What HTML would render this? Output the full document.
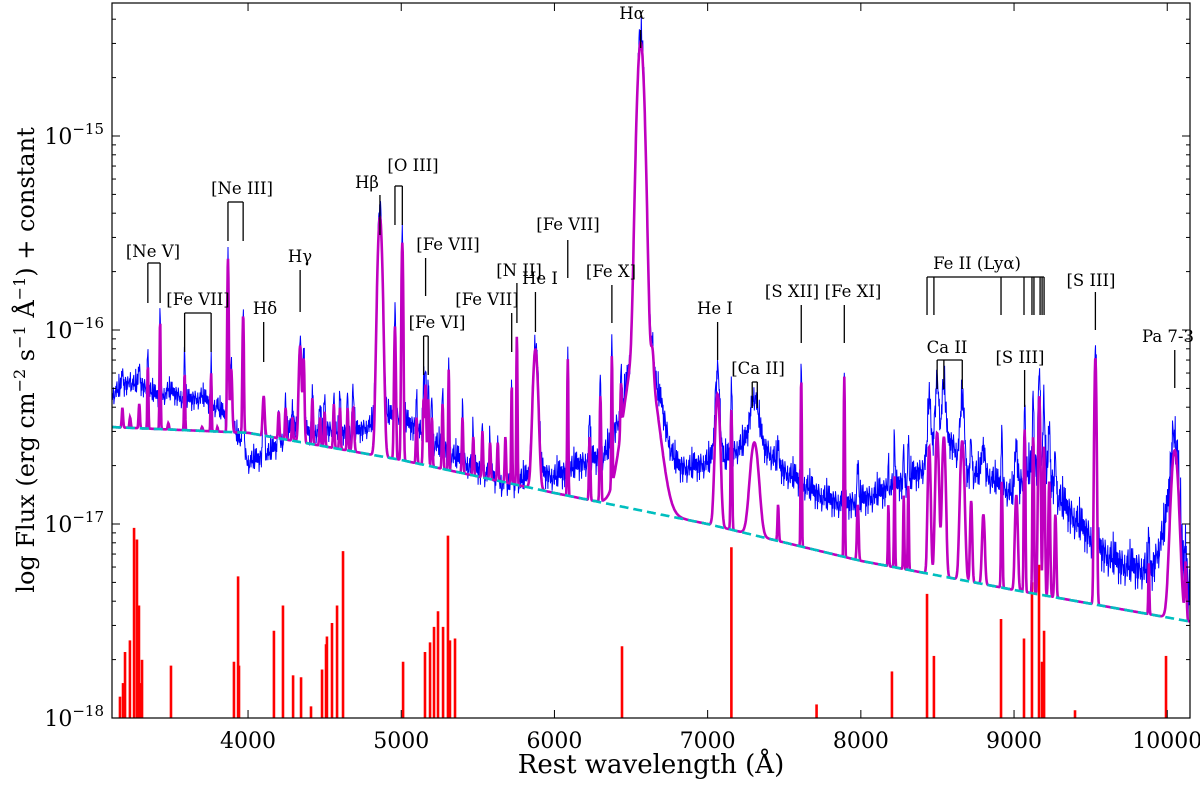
<!DOCTYPE html>
<html><head><meta charset="utf-8"><style>
body{margin:0;background:#fff;}
svg{display:block;font-family:"DejaVu Serif","Liberation Serif",serif;}
</style></head><body>
<svg id="chart" width="1200" height="786" viewBox="0 0 1200 786" xmlns="http://www.w3.org/2000/svg">
<defs><clipPath id="clip"><rect x="112" y="3" width="1078" height="715"/></clipPath></defs>
<g id="plot" clip-path="url(#clip)"></g>
<g id="annot"></g>
<g id="axes"></g>
</svg>
<script>
// ---- data ----
const contWave = [3100,4000,5000,6000,7000,8000,9000,10200];
const contLog  = [-16.50,-16.53,-16.67,-16.84,-17.00,-17.19,-17.34,-17.51];
const lineWave = [3180,3230,3290,3346,3426,3480,3586,3640,3700,3759,3800,3869,3890,3968,4070,4102,4200,4245,4290,4340,4363,4420,4470,4500,4560,4600,4650,4686,4861,4959,5007,5100,5146,5159,5176,5200,5270,5310,5400,5470,5530,5580,5630,5680,5721,5755,5876,6087,6230,6300,6375,6435,6563,6563,6640,7065,7155,7305,7460,7611,7892,7980,8180,8220,8280,8310,8446,8498,8542,8662,8720,8800,8920,9015,9069,9125,9165,9195,9230,9270,9531,9880,10049,10120];
const linePeak = [-16.40,-16.45,-16.38,-16.18,-15.95,-16.48,-16.22,-16.52,-16.50,-16.22,-16.50,-15.63,-16.20,-15.92,-16.55,-16.34,-16.42,-16.40,-16.45,-16.08,-16.15,-16.35,-16.45,-16.42,-16.38,-16.40,-16.40,-16.40,-15.42,-15.98,-15.55,-16.45,-16.35,-16.28,-16.35,-16.45,-16.38,-16.20,-16.45,-16.55,-16.52,-16.58,-16.58,-16.55,-16.28,-16.03,-16.10,-16.15,-16.55,-16.34,-16.15,-16.45,-14.53,-16.05,-16.48,-16.33,-16.41,-16.58,-16.90,-16.25,-16.24,-16.90,-16.90,-16.75,-16.85,-16.80,-16.60,-16.53,-16.55,-16.57,-16.88,-16.95,-16.78,-16.85,-16.51,-16.55,-16.34,-16.60,-16.78,-16.95,-16.14,-17.20,-16.62,-17.20];
const lineSigma = [4,4,4,3,3,4,3,4,4,3,3,4,6,4,4,6,4,4,4,8,5,4,4,4,4,4,4,6,14,5,5,4,4,4,4,4,4,3,4,4,4,4,4,4,3,3,15,3,4,4,3,4,20,75,8,14,4,25,4,3,3,5,3,3,3,3,8,10,10,12,6,8,4,8,4,4,6,5,5,5,6,3,22,5];
const baseStart = 3100, baseStep = 100;
const blueBase = [-16.34,-16.28,-16.28,-16.34,-16.32,-16.36,-16.35,-16.40,-16.49,-16.68,-16.66,-16.59,-16.49,-16.53,-16.51,-16.53,-16.53,-16.49,-16.44,-16.46,-16.51,-16.57,-16.63,-16.68,-16.72,-16.76,-16.81,-16.77,-16.73,-16.76,-16.72,-16.68,-16.66,-16.62,-16.98,-16.98,-16.59,-16.71,-16.71,-16.68,-16.68,-16.61,-16.57,-16.63,-16.73,-16.78,-16.84,-16.88,-16.90,-16.88,-16.85,-16.81,-16.78,-16.72,-16.52,-16.59,-16.76,-16.73,-16.80,-16.85,-16.72,-16.70,-16.88,-16.98,-17.07,-17.16,-17.21,-17.23,-17.24,-16.98,-17.31,-17.39];
const noisePattern = [0.3,-0.8,0.5,-0.2,0.9,-0.6,0.1,-1.0,0.7,-0.3,0.4,-0.9,0.2,0.8,-0.5,-0.1,0.6,-0.7,1.0,-0.4,0.0,-0.8,0.5,0.3,-0.6,0.9,-0.2,-1.0,0.4,0.7,-0.3,0.1,-0.9,0.6,-0.5,0.8,-0.1,0.2,-0.7,0.5,-0.35,0.95,-0.15,0.45];
const noiseAmp = [0.055,0.06,0.07,0.075,0.075,0.08,0.1,0.15];
const barWave = [3164,3184,3197,3229,3256,3275,3288,3295,3308,3497,3908,3935,3941,4169,4228,4294,4346,4411,4483,4509,4515,4548,4581,4620,5012,5155,5188,5214,5240,5273,5305,5318,5351,6441,7155,7711,8203,8432,8477,8915,9065,9117,9163,9183,9196,9398,9992];
const barLog  = [-17.89,-17.82,-17.66,-17.60,-17.02,-17.08,-17.42,-17.82,-17.70,-17.73,-17.71,-17.27,-17.73,-17.55,-17.42,-17.78,-17.79,-17.94,-17.75,-17.62,-17.58,-17.51,-17.42,-17.14,-17.71,-17.66,-17.61,-17.53,-17.45,-17.53,-17.06,-17.60,-17.59,-17.63,-17.12,-17.93,-17.76,-17.36,-17.68,-17.49,-17.59,-17.30,-17.21,-17.71,-17.55,-17.96,-17.68];
const xTicks = [4000,5000,6000,7000,8000,9000,10000];
const yTicks = [-18,-17,-16,-15];

// ---- scales ----
const X0=112,X1=1190,Y0=3,Y1=718;
const W0=3112, PXA=0.1532;
function X(w){return X0+(w-W0)*PXA;}
function Y(l){return Y1-(l+18)*194;}
const WMIN=W0, WMAX=W0+(X1-X0)/PXA;
const NS='http://www.w3.org/2000/svg';
function el(tag,attrs,parent){const e=document.createElementNS(NS,tag);for(const k in attrs)e.setAttribute(k,attrs[k]);parent.appendChild(e);return e;}
function interp(xs,ys,x){if(x<=xs[0])return ys[0];for(let i=1;i<xs.length;i++){if(x<=xs[i]){const t=(x-xs[i-1])/(xs[i]-xs[i-1]);return ys[i-1]+t*(ys[i]-ys[i-1]);}}return ys[ys.length-1];}
function cont(w){return Math.pow(10,interp(contWave,contLog,w));}
function lines(w){let s=0;for(let i=0;i<lineWave.length;i++){const d=(w-lineWave[i])/lineSigma[i];if(Math.abs(d)>6)continue;const amp=Math.max(Math.pow(10,linePeak[i])-cont(lineWave[i]),0);s+=amp*Math.exp(-0.5*d*d);}return s;}
function baseAt(w){const xs=blueBase.map((_,i)=>baseStart+i*baseStep);return interp(xs,blueBase,w);}

const plot=document.getElementById('plot');
for(let i=0;i<barWave.length;i++){
  const b=el('line',{x1:X(barWave[i]),x2:X(barWave[i]),y1:Y1,y2:Y(barLog[i]),stroke:'#ff0000','stroke-width':2.6},plot);
  
  
}
let bp=[],mp=[],cp=[];let k=0;
const NP=noisePattern.length;
for(let w=WMIN;w<=WMAX;w+=2.5){
  const L=lines(w);
  const na=noiseAmp[Math.min(7,Math.max(0,Math.floor(w/1000)-3))];
  const nz=noisePattern[k%NP]*na*0.7+noisePattern[(k*7+3)%NP]*na*0.5+noisePattern[(k*13+11)%NP]*na*0.3;k++;
  const bl=Math.log10(Math.pow(10,baseAt(w))+L*1.1)+nz;
  bp.push(X(w).toFixed(1)+','+Y(bl).toFixed(1));
  const c=cont(w);
  mp.push(X(w).toFixed(1)+','+Y(Math.log10(c+L)).toFixed(1));
  cp.push(X(w).toFixed(1)+','+Y(Math.log10(c)).toFixed(1));
}
const blue=el('polyline',{points:bp.join(' '),fill:'none',stroke:'#0000ff','stroke-width':1},plot);


const mag=el('polyline',{points:mp.join(' '),fill:'none',stroke:'#bf00bf','stroke-width':2.6},plot);


const cy=el('polyline',{points:cp.join(' '),fill:'none',stroke:'#00bfbf','stroke-width':2.6,'stroke-dasharray':'9,5'},plot);



// ---- axes ----
const axes=document.getElementById('axes');
const fr=el('rect',{x:X0,y:Y0,width:X1-X0,height:Y1-Y0,fill:'none',stroke:'#000','stroke-width':1.2},axes);


xTicks.forEach(t=>{
  const x=X(t);
  el('line',{x1:x,x2:x,y1:Y1,y2:Y1-8,stroke:'#000','stroke-width':1},axes);
  el('line',{x1:x,x2:x,y1:Y0,y2:Y0+8,stroke:'#000','stroke-width':1},axes);
  const tx=el('text',{x:x,y:Y1+30,'text-anchor':'middle','font-size':22},axes);tx.textContent=t;
  
  
});
yTicks.forEach(t=>{
  const y=Y(t);
  el('line',{x1:X0,x2:X0+8,y1:y,y2:y,stroke:'#000','stroke-width':1},axes);
  el('line',{x1:X1,x2:X1-8,y1:y,y2:y,stroke:'#000','stroke-width':1},axes);
  const tx=el('text',{x:X0-8,y:y+8,'text-anchor':'end','font-size':22},axes);
  tx.innerHTML='10<tspan dy="-10" font-size="15">−'+(-t)+'</tspan>';
  
  
  for(let m=2;m<=9;m++){const ym=Y(t+Math.log10(m));if(ym<Y0)continue;
    el('line',{x1:X0,x2:X0+4,y1:ym,y2:ym,stroke:'#000','stroke-width':1},axes);
    el('line',{x1:X1,x2:X1-4,y1:ym,y2:ym,stroke:'#000','stroke-width':1},axes);}
});
const xl=el('text',{x:651,y:773,'text-anchor':'middle','font-size':26},axes);xl.textContent='Rest wavelength (Å)';


const yl=el('text',{x:0,y:0,'text-anchor':'middle','font-size':24,transform:'translate(34,360) rotate(-90)'},axes);
yl.innerHTML='log Flux (erg cm<tspan dy="-9" font-size="16">−2</tspan><tspan dy="9"> s</tspan><tspan dy="-9" font-size="16">−1</tspan><tspan dy="9"> Å</tspan><tspan dy="-9" font-size="16">−1</tspan><tspan dy="9">) + constant</tspan>';



// ---- annotations ----
const annLabel = ['[Ne V]','[Fe VII]','[Ne III]','Hδ','Hγ','Hβ','[O III]','[Fe VII]','[Fe VI]','[Fe VII]','[N II]','He I','[Fe VII]','[Fe X]','Hα','He I','[Ca II]','[S XII]','[Fe XI]','Fe II (Lyα)','Ca II','[S III]','[S III]','Pa 7-3'];
const annWaves = [[3346,3426],[3586,3759],[3869,3968],[4102],[4340],[4861],[4959,5007],[5159],[5146,5176],[5721],[5755],[5876],[6087],[6375],[6563],[7065],[7291,7324],[7611],[7892],[8432,8477,8915,9065,9117,9130,9170,9183,9196],[8498,8542,8662],[9069],[9531],[10049]];
const annTextX = [153,198,242,265,300,367,413,448,437,487,519,540,568,611,632,715,758,792,853,977,947,1020,1091,1168];
const annTextY = [257,305,194,314,262,188,171,250,328,305,276,284,230,277,19,314,374,297,297,269,353,363,286,342];
const annTop = [263,313,202,322,270,195,186,258,336,313,283,292,240,285,30,322,382,305,305,277,360,370,292,350];
const annBot = [303,352,241,362,312,235,225,296,375,352,323,332,278,323,48,360,408,343,343,315,389,407,330,388];
annLabel.forEach((lab,i)=>{
  const g=el('g',{},document.getElementById('annot'));
  
  
  const t=el('text',{x:annTextX[i],y:annTextY[i],'text-anchor':'middle','font-size':16.5},g);
  t.textContent=lab;
  const ws=annWaves[i];
  ws.forEach(w=>el('line',{x1:X(w),x2:X(w),y1:annTop[i],y2:annBot[i],stroke:'#000','stroke-width':1.3},g));
  if(ws.length>1) el('line',{x1:X(ws[0]),x2:X(ws[ws.length-1]),y1:annTop[i],y2:annTop[i],stroke:'#000','stroke-width':1.3},g);
});
</script>
</body></html>
